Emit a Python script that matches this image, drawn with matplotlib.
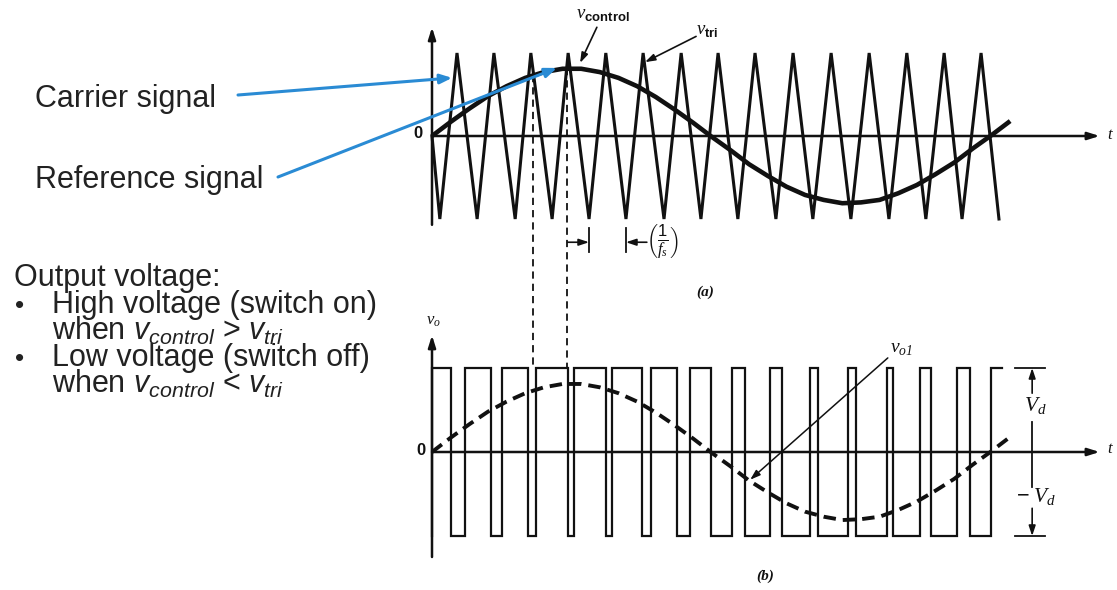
import matplotlib
matplotlib.use('Agg')
import matplotlib.pyplot as plt

# carrier (triangle) vertices: time in carrier periods, value in units of carrier peak
tri_t = [0, 0.21, 0.67, 1.21, 1.66, 2.23, 2.65, 3.22, 3.65, 4.21, 4.66, 5.20, 5.66, 6.22,
         6.68, 7.21, 7.67, 8.20, 8.66, 9.22, 9.68, 10.21, 10.70, 11.23, 11.72, 12.25,
         12.73, 13.24, 13.73, 14.21, 14.72, 15.20]
tri_v = [0, -1, 1, -1, 1, -1, 1, -1, 1, -1, 1, -1, 1, -1, 1, -1,
         1, -1, 1, -1, 1, -1, 1, -1, 1, -1, 1, -1, 1, -1, 1, -1]

# control (reference) signal
ctrl_t = [0, 0.5, 1, 1.5, 2, 2.5, 3, 3.5, 4, 4.5, 5, 5.5, 6, 6.5, 7, 7.5,
          8, 8.5, 9, 9.5, 10, 10.5, 11, 11.5, 12, 12.5, 13, 13.5, 14, 14.5, 15, 15.5]
ctrl_v = [0, 0.17, 0.33, 0.48, 0.60, 0.70, 0.77, 0.81, 0.81, 0.77, 0.70, 0.60, 0.47, 0.32,
          0.16, -0.01, -0.17, -0.34, -0.48, -0.61, -0.71, -0.77, -0.81, -0.80, -0.77, -0.69,
          -0.59, -0.46, -0.32, -0.15, 0.01, 0.18]

# output voltage pulses (switch on / off instants); last one is cut at the end of the trace
pulse_on = [0, 0.88, 1.88, 2.79, 3.81, 4.83, 5.87, 6.92, 8.04, 9.06, 10.13, 11.15,
            12.20, 13.08, 14.08, 14.99]
pulse_off = [0.51, 1.58, 2.57, 3.65, 4.66, 5.63, 6.57, 7.48, 8.39, 9.38, 10.35, 11.37,
             12.36, 13.38, 14.42, 15.28]
vd_level = 1.0

# instants marked by the dashed projection lines
mark_t = [2.71, 3.63]
mark_v = [0.74, 0.82]

plt.rcParams['mathtext.fontset'] = 'custom'
plt.rcParams['mathtext.rm'] = 'Liberation Sans'
plt.rcParams['mathtext.it'] = 'Liberation Sans:italic'
plt.rcParams['mathtext.bf'] = 'Liberation Sans:bold'
plt.rcParams['mathtext.sf'] = 'Liberation Serif:italic'

W, H = 1117, 590
fig = plt.figure(figsize=(W / 100, H / 100), dpi=100)
fig.patch.set_facecolor('white')

# pixel layout: t=0 at x=432, 37.3 px per carrier period
x0, sx = 432, 37.3
xlim = (-x0 / sx, (W - x0) / sx)

ax1 = fig.add_axes([0, 290 / H, 1, 300 / H])
ax1.set_xlim(*xlim)
ax1.set_ylim((136 - 300) / 83, 136 / 83)
ax1.axis('off')

ax2 = fig.add_axes([0, 0, 1, 290 / H])
ax2.set_xlim(*xlim)
ax2.set_ylim((452 - 590) / 84, (452 - 300) / 84)
ax2.axis('off')

ink = '#111111'
blue = '#2a8bd4'


def axis_arrow(ax, start, end, lw=1.8):
    ax.annotate('', xy=end, xytext=start,
                arrowprops=dict(arrowstyle='-|>,head_length=0.7,head_width=0.22',
                                lw=lw, color=ink, shrinkA=0, shrinkB=0))


def leader(ax, start, end, lw=1.2):
    ax.annotate('', xy=end, xytext=start,
                arrowprops=dict(arrowstyle='-|>,head_length=0.6,head_width=0.2',
                                lw=lw, color=ink, shrinkA=0, shrinkB=0))


# ---------------- (a) carrier and control ----------------
axis_arrow(ax1, (0, -1.07), (0, 1.31))
axis_arrow(ax1, (0, 0), (17.9, 0))
ax1.plot(tri_t, tri_v, color=ink, lw=2.2, solid_joinstyle='miter')
ax1.plot(ctrl_t, ctrl_v, color=ink, lw=3.3, solid_capstyle='butt')
ax1.text(-0.38, 0.03, '0', fontsize=12, fontweight='bold', ha='center', va='center',
         family='Liberation Sans', color=ink)
ax1.text(18.2, 0.02, r'$\mathsf{t}$', fontsize=12, ha='center', va='center', color=ink)

ax1.text(3.85, 1.47, r'$\mathsf{v}_{\mathbf{control}}$', fontsize=13.5, ha='left',
         va='center', color=ink)
leader(ax1, (4.42, 1.31), (3.97, 0.88))
ax1.text(7.08, 1.28, r'$\mathsf{v}_{\mathbf{tri}}$', fontsize=13.5, ha='left',
         va='center', color=ink)
leader(ax1, (7.08, 1.20), (5.71, 0.89))

# dashed projection lines down to the output waveform
for t, v in zip(mark_t, mark_v):
    ax1.plot([t, t], [v, (136 - 367) / 83], color=ink, lw=1.3, ls=(0, (4, 2.8)),
             clip_on=False)

# 1/fs dimension
for t in [4.21, 5.20]:
    ax1.plot([t, t], [-1.11, -1.40], color=ink, lw=1.3)
leader(ax1, (mark_t[1], -1.28), (4.21, -1.28))
leader(ax1, (5.76, -1.28), (5.20, -1.28))
ax1.text(5.74, -1.28, r'$\left(\frac{1}{\mathsf{f_s}}\right)$', fontsize=17,
         ha='left', va='center', color=ink)
ax1.text(7.32, -1.88, '(a)', fontsize=11, family='Liberation Serif', style='italic',
         fontweight='bold', ha='center', va='center', color=ink)

# ---------------- (b) output voltage ----------------
axis_arrow(ax2, (0, -1.25), (0, 1.39))
axis_arrow(ax2, (0, 0), (17.9, 0))
xs, ys = [], []
for i, (a, b) in enumerate(zip(pulse_on, pulse_off)):
    xs += [a, a, b]
    ys += [-vd_level, vd_level, vd_level]
    if i < len(pulse_on) - 1:
        xs.append(b)
        ys.append(-vd_level)
ax2.plot(xs, ys, color=ink, lw=1.6, solid_joinstyle='miter')
ax2.plot(ctrl_t, [v * vd_level for v in ctrl_v], color=ink, lw=2.8,
         ls=(0, (3.2, 1.8)))
ax2.text(-0.30, 0.02, '0', fontsize=12, fontweight='bold', ha='center', va='center',
         family='Liberation Sans', color=ink)
ax2.text(18.2, 0.05, r'$\mathsf{t}$', fontsize=12, ha='center', va='center', color=ink)
ax2.text(0.05, 1.57, r'$\mathsf{v}_{\mathsf{o}}$', fontsize=12, ha='center',
         va='center', color=ink)

ax2.text(12.28, 1.24, r'$\mathsf{v}_{\mathsf{o1}}$', fontsize=14, ha='left',
         va='center', color=ink)
leader(ax2, (12.22, 1.12), (8.53, -0.33), lw=1.1)

# Vd dimension
vx = 16.09
for lvl in [vd_level, -vd_level]:
    ax2.plot([15.63, 16.43], [lvl, lvl], color=ink, lw=1.3)
leader(ax2, (vx, 0.70), (vx, vd_level))
leader(ax2, (vx, -0.67), (vx, -vd_level))
ax2.plot([vx, vx], [0.36, -0.42], color=ink, lw=1.3)
ax2.text(16.17, 0.54, r'$\mathsf{V}_{\mathsf{d}}$', fontsize=15.5, ha='center',
         va='center', color=ink)
ax2.text(16.75, -0.54, r'$-\;\mathsf{V}_{\mathsf{d}}$', fontsize=15.5, ha='right',
         va='center', color=ink)
ax2.text(8.93, -1.48, '(b)', fontsize=11, family='Liberation Serif', style='italic',
         fontweight='bold', ha='center', va='center', color=ink)

# ---------------- left-hand notes ----------------
txt = dict(fontsize=22, family='Liberation Sans', color='#222222', va='baseline')


def ftext(x, y, s, **kw):
    fig.text(x / W, 1 - y / H, s, **{**txt, **kw})


ftext(35, 107, 'Carrier signal')
ftext(35, 188, 'Reference signal')
ftext(14, 286, 'Output voltage:')
ftext(15, 313, '\u2022', fontsize=19)
ftext(52, 313, 'High voltage (switch on)')
ftext(52, 340, r'when $v_{control}$ > $v_{tri}$')
ftext(15, 366, '\u2022', fontsize=19)
ftext(52, 366, 'Low voltage (switch off)')
ftext(52, 393, r'when $v_{control}$ < $v_{tri}$')

arrow_blue = dict(arrowstyle='-|>,head_length=0.7,head_width=0.28', lw=2.2, color=blue,
                  shrinkA=0, shrinkB=0)
ax1.annotate('', xy=(0.54, 0.70), xytext=(238 / W, 1 - 95 / H),
             textcoords='figure fraction', arrowprops=arrow_blue, zorder=10)
ax1.annotate('', xy=(3.35, 0.82), xytext=(278 / W, 1 - 177 / H),
             textcoords='figure fraction', arrowprops=arrow_blue, zorder=10)

fig.savefig('out.png', dpi=100, facecolor='white')
